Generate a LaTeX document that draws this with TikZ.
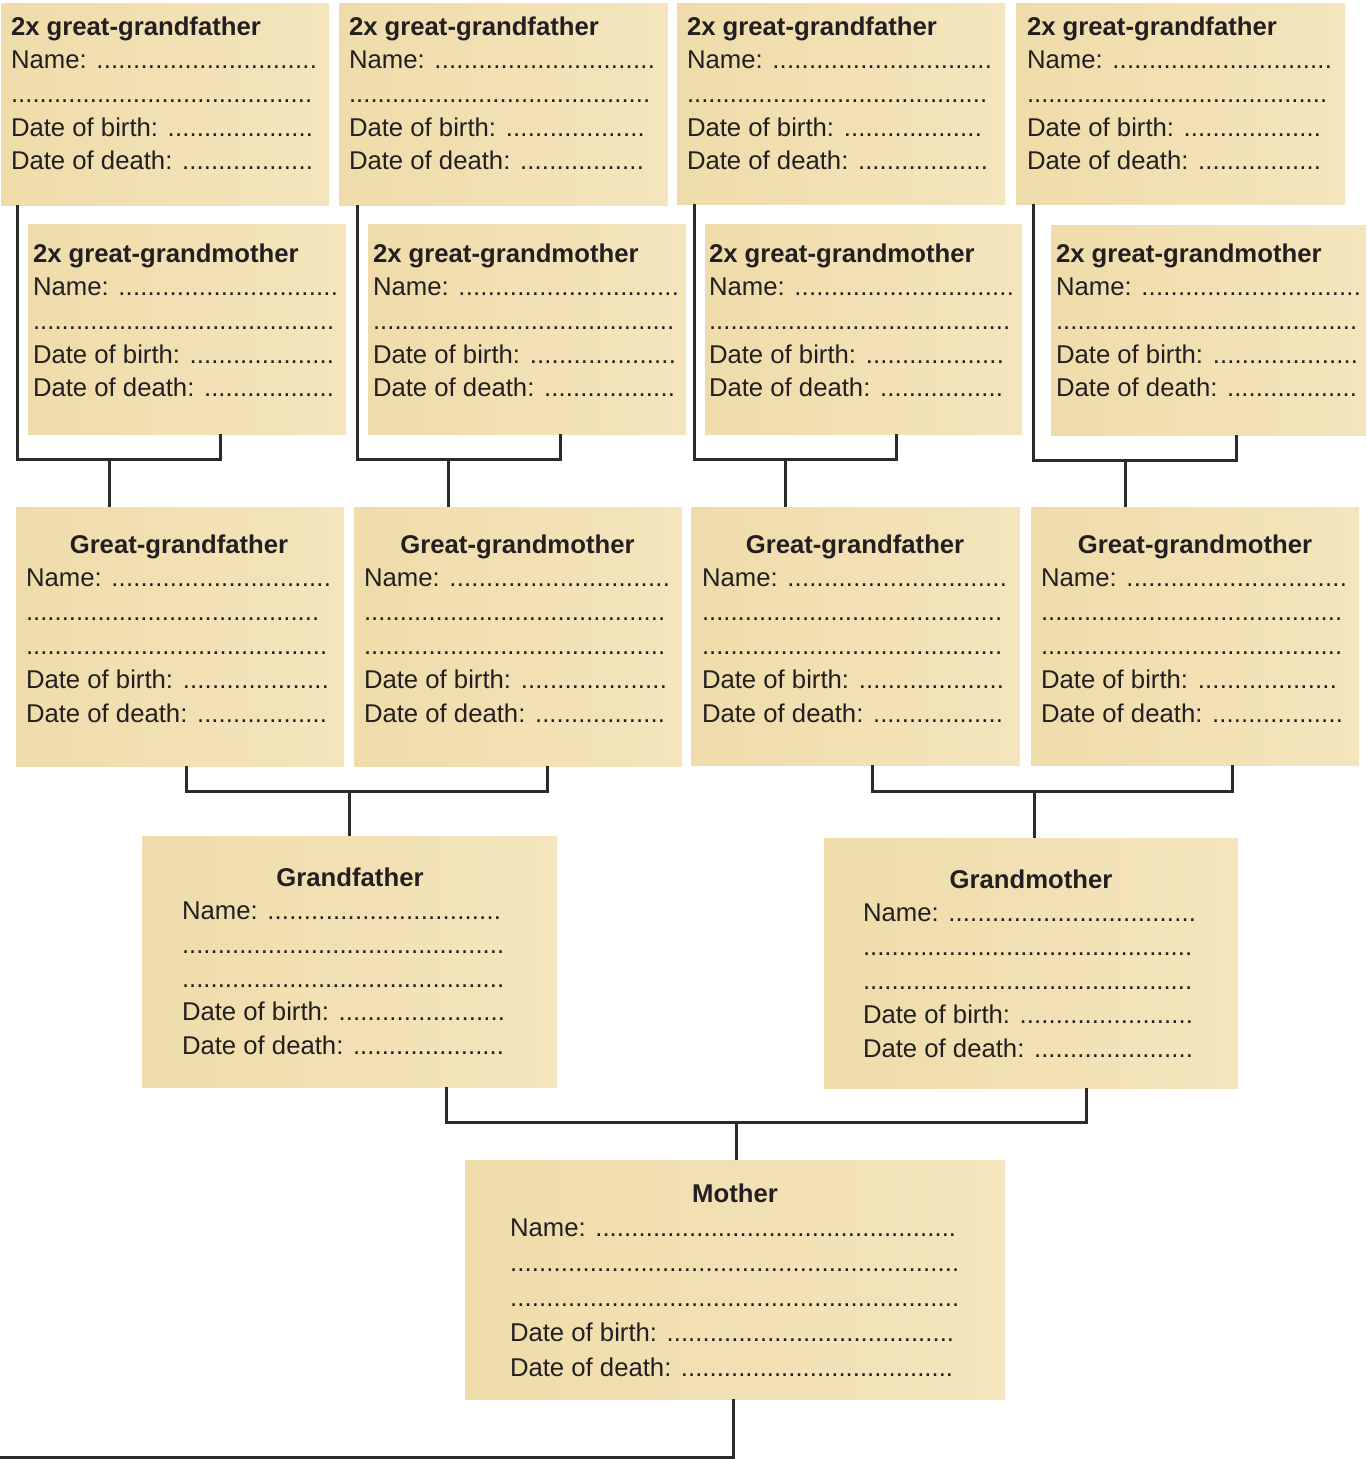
\documentclass[tikz,border=0pt]{standalone}
\usepackage{fontspec}
\setmainfont{Liberation Sans}
\definecolor{ink}{HTML}{231F20}
\definecolor{linec}{HTML}{2B2B2B}
\definecolor{parchL}{HTML}{EFDCAA}
\definecolor{parchM}{HTML}{F8EDCB}
\definecolor{parchR}{HTML}{F4E5BD}
\newcommand\dl[2]{\hbox to #2pt{#1\xleaders\hbox{.}\hfill}}
\newcommand\tl[1]{\hbox{\bfseries #1}}
\newcommand\tc[2]{\hbox to #2pt{\hss\bfseries #1\hss}}
\begin{document}
\begin{tikzpicture}[x=1pt,y=-1pt,
  card/.style={anchor=north west, inner sep=0pt, outer sep=0pt, draw=none,
    left color=parchL, middle color=parchM, right color=parchR},
  txt/.style={anchor=base west, inner sep=0pt, outer sep=0pt, text=ink},
  fA/.style={font=\fontsize{25.7}{33.7}\selectfont},
  fB/.style={font=\fontsize{25.7}{33.8}\selectfont},
  fC/.style={font=\fontsize{25.7}{34.8}\selectfont},
  conn/.style={draw=linec, line width=3pt, line join=miter}]
\useasboundingbox (0,0) rectangle (1366,1459);
\fill[white] (0,0) rectangle (1366,1459);

% ---- boxes
\node[card, minimum width=328, minimum height=202] (b1) at (1,3) {};
\node[card, minimum width=329, minimum height=202] (b2) at (339,3) {};
\node[card, minimum width=328, minimum height=201] (b3) at (677,3) {};
\node[card, minimum width=329, minimum height=201] (b4) at (1016,3) {};
\node[card, minimum width=318, minimum height=210] (g1) at (28,224) {};
\node[card, minimum width=318, minimum height=210] (g2) at (368,224) {};
\node[card, minimum width=317, minimum height=210] (g3) at (705,224) {};
\node[card, minimum width=315, minimum height=210] (g4) at (1051,225) {};
\node[card, minimum width=328, minimum height=259] (gg1) at (16,507) {};
\node[card, minimum width=328, minimum height=259] (gg2) at (354,507) {};
\node[card, minimum width=329, minimum height=258] (gg3) at (691,507) {};
\node[card, minimum width=328, minimum height=258] (gg4) at (1031,507) {};
\node[card, minimum width=415, minimum height=251] (gf) at (142,836) {};
\node[card, minimum width=414, minimum height=250] (gm) at (824,838) {};
\node[card, minimum width=540, minimum height=239] (m) at (465,1160) {};

% ---- texts, row 1
\node[txt,fA] (b1t) at (11,35) {\vtop{\tl{2x great-grandfather}\dl{Name: }{306}\dl{}{301}\dl{Date of birth: }{302}\dl{Date of death: }{302}}};
\node[txt,fA] (b2t) at (349,35) {\vtop{\tl{2x great-grandfather}\dl{Name: }{306}\dl{}{301}\dl{Date of birth: }{296}\dl{Date of death: }{295}}};
\node[txt,fA] (b3t) at (687,35) {\vtop{\tl{2x great-grandfather}\dl{Name: }{305}\dl{}{300}\dl{Date of birth: }{295}\dl{Date of death: }{301}}};
\node[txt,fA] (b4t) at (1027,35) {\vtop{\tl{2x great-grandfather}\dl{Name: }{305}\dl{}{300}\dl{Date of birth: }{294}\dl{Date of death: }{294}}};
% row 2
\node[txt,fA] (g1t) at (33,262) {\vtop{\tl{2x great-grandmother}\dl{Name: }{305}\dl{}{301}\dl{Date of birth: }{301}\dl{Date of death: }{301}}};
\node[txt,fA] (g2t) at (373,262) {\vtop{\tl{2x great-grandmother}\dl{Name: }{306}\dl{}{301}\dl{Date of birth: }{303}\dl{Date of death: }{302}}};
\node[txt,fA] (g3t) at (709,262) {\vtop{\tl{2x great-grandmother}\dl{Name: }{305}\dl{}{301}\dl{Date of birth: }{295}\dl{Date of death: }{294}}};
\node[txt,fA] (g4t) at (1056,262) {\vtop{\tl{2x great-grandmother}\dl{Name: }{305}\dl{}{301}\dl{Date of birth: }{302}\dl{Date of death: }{301}}};
% row 3
\node[txt,fB] (gg1t) at (26,553) {\vtop{\tc{Great-grandfather}{306}\dl{Name: }{305}\dl{}{293}\dl{}{301}\dl{Date of birth: }{303}\dl{Date of death: }{301}}};
\node[txt,fB] (gg2t) at (364,553) {\vtop{\tc{Great-grandmother}{307}\dl{Name: }{306}\dl{}{301}\dl{}{301}\dl{Date of birth: }{303}\dl{Date of death: }{301}}};
\node[txt,fB] (gg3t) at (702,553) {\vtop{\tc{Great-grandfather}{306}\dl{Name: }{305}\dl{}{300}\dl{}{300}\dl{Date of birth: }{302}\dl{Date of death: }{301}}};
\node[txt,fB] (gg4t) at (1041,553) {\vtop{\tc{Great-grandmother}{308}\dl{Name: }{306}\dl{}{301}\dl{}{301}\dl{Date of birth: }{296}\dl{Date of death: }{302}}};
% grandparents
\node[txt,fA] (gft) at (182,886) {\vtop{\tc{Grandfather}{336}\dl{Name: }{319}\dl{}{322}\dl{}{322}\dl{Date of birth: }{323}\dl{Date of death: }{322}}};
\node[txt,fB] (gmt) at (863,888) {\vtop{\tc{Grandmother}{336}\dl{Name: }{333}\dl{}{329}\dl{}{329}\dl{Date of birth: }{330}\dl{Date of death: }{330}}};
% mother
\node[txt,fC] (mt) at (510,1202) {\vtop{\tc{Mother}{450}\dl{Name: }{446}\dl{}{449}\dl{}{449}\dl{Date of birth: }{444}\dl{Date of death: }{443}}};

% ---- connectors
\draw[conn] ([xshift=16]b1.south west) -- ++(0,254) -| ([xshift=192]g1.south west);
\draw[conn] ([xshift=93]gg1.north west) -- ++(0,-48);
\draw[conn] ([xshift=18]b2.south west) -- ++(0,254) -| ([xshift=192]g2.south west);
\draw[conn] ([xshift=94]gg2.north west) -- ++(0,-48);
\draw[conn] ([xshift=17]b3.south west) -- ++(0,255) -| ([xshift=191]g3.south west);
\draw[conn] ([xshift=94]gg3.north west) -- ++(0,-48);
\draw[conn] ([xshift=17]b4.south west) -- ++(0,256) -| ([xshift=185]g4.south west);
\draw[conn] ([xshift=94]gg4.north west) -- ++(0,-47);

\draw[conn] ([xshift=170]gg1.south west) -- ++(0,25) -| ([xshift=193]gg2.south west);
\draw[conn] ([xshift=207]gf.north west) -- ++(0,-45);
\draw[conn] ([xshift=181]gg3.south west) -- ++(0,26) -| ([xshift=201]gg4.south west);
\draw[conn] ([xshift=210]gm.north west) -- ++(0,-47);

\draw[conn] ([xshift=304]gf.south west) -- ++(0,35) -| ([xshift=262]gm.south west);
\draw[conn] ([xshift=271]m.north west) -- ++(0,-38);

\coordinate (out) at (0,1457);
\draw[conn] ([xshift=268]m.south west) |- (out);
\end{tikzpicture}
\end{document}
